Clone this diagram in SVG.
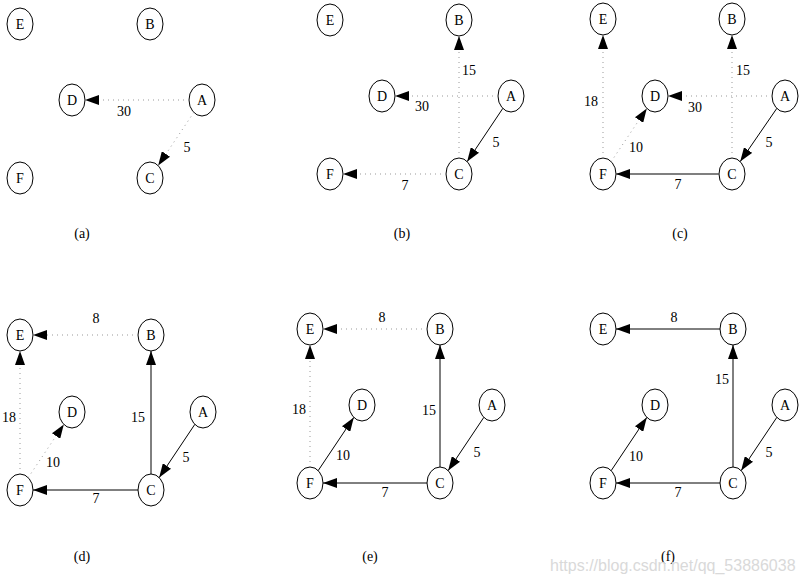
<svg xmlns="http://www.w3.org/2000/svg" width="801" height="582" viewBox="0 0 801 582">
<style>
.n ellipse{fill:#fff;stroke:#000;stroke-width:1}
.n text{font-family:"Liberation Serif","Times New Roman","DejaVu Serif",serif;font-size:14px;text-anchor:middle;fill:#000}
.s{stroke:#000;stroke-width:1;fill:none;marker-end:url(#ah)}
.g{stroke:#555;stroke-width:1.3;fill:none;marker-end:url(#ah)}
.d{stroke:#999;stroke-width:1;fill:none;stroke-dasharray:1 4;marker-end:url(#ah)}
.l{font-family:"Liberation Serif","Times New Roman","DejaVu Serif",serif;font-size:14px;text-anchor:middle;fill:#000}
.wm{font-family:"Liberation Sans",Arial,sans-serif;font-size:16px;fill:#d9d9d9}
</style>
<defs>
<marker id="ah" markerUnits="userSpaceOnUse" markerWidth="14" markerHeight="10" refX="14" refY="5" orient="auto">
<path d="M0,0 L14,5 L0,10 z" fill="#000"/>
</marker>
</defs>
<rect width="801" height="582" fill="#fff"/>

<!-- Panel a -->
<g id="a-E" class="n"><ellipse cx="20" cy="24" rx="13" ry="16"/><text x="20" y="29">E</text></g>
<g id="a-B" class="n"><ellipse cx="150" cy="24" rx="13" ry="16"/><text x="150" y="29">B</text></g>
<g id="a-D" class="n"><ellipse cx="72" cy="100" rx="13" ry="16"/><text x="72" y="105">D</text></g>
<g id="a-A" class="n"><ellipse cx="202" cy="100" rx="13" ry="16"/><text x="202" y="105">A</text></g>
<g id="a-C" class="n"><ellipse cx="150" cy="178" rx="13" ry="16"/><text x="150" y="183">C</text></g>
<g id="a-F" class="n"><ellipse cx="20" cy="178" rx="13" ry="16"/><text x="20" y="183">F</text></g>

<!-- Panel b -->
<g id="b-E" class="n"><ellipse cx="330" cy="20" rx="13" ry="16"/><text x="330" y="25">E</text></g>
<g id="b-B" class="n"><ellipse cx="459" cy="20" rx="13" ry="16"/><text x="459" y="25">B</text></g>
<g id="b-D" class="n"><ellipse cx="382" cy="96" rx="13" ry="16"/><text x="382" y="101">D</text></g>
<g id="b-A" class="n"><ellipse cx="511" cy="96" rx="13" ry="16"/><text x="511" y="101">A</text></g>
<g id="b-C" class="n"><ellipse cx="459" cy="174" rx="13" ry="16"/><text x="459" y="179">C</text></g>
<g id="b-F" class="n"><ellipse cx="330" cy="174" rx="13" ry="16"/><text x="330" y="179">F</text></g>

<!-- Panel c -->
<g id="c-E" class="n"><ellipse cx="603" cy="19" rx="13" ry="16"/><text x="603" y="24">E</text></g>
<g id="c-B" class="n"><ellipse cx="732" cy="19" rx="13" ry="16"/><text x="732" y="24">B</text></g>
<g id="c-D" class="n"><ellipse cx="655" cy="96" rx="13" ry="16"/><text x="655" y="101">D</text></g>
<g id="c-A" class="n"><ellipse cx="785" cy="96" rx="13" ry="16"/><text x="785" y="101">A</text></g>
<g id="c-C" class="n"><ellipse cx="732" cy="174" rx="13" ry="16"/><text x="732" y="179">C</text></g>
<g id="c-F" class="n"><ellipse cx="603" cy="174" rx="13" ry="16"/><text x="603" y="179">F</text></g>

<!-- Panel d -->
<g id="d-E" class="n"><ellipse cx="20" cy="335" rx="13" ry="16"/><text x="20" y="340">E</text></g>
<g id="d-B" class="n"><ellipse cx="151" cy="335" rx="13" ry="16"/><text x="151" y="340">B</text></g>
<g id="d-D" class="n"><ellipse cx="72" cy="412" rx="13" ry="16"/><text x="72" y="417">D</text></g>
<g id="d-A" class="n"><ellipse cx="203" cy="412" rx="13" ry="16"/><text x="203" y="417">A</text></g>
<g id="d-C" class="n"><ellipse cx="151" cy="490" rx="13" ry="16"/><text x="151" y="495">C</text></g>
<g id="d-F" class="n"><ellipse cx="20" cy="490" rx="13" ry="16"/><text x="20" y="495">F</text></g>

<!-- Panel e -->
<g id="e-E" class="n"><ellipse cx="310" cy="329" rx="13" ry="16"/><text x="310" y="334">E</text></g>
<g id="e-B" class="n"><ellipse cx="440" cy="329" rx="13" ry="16"/><text x="440" y="334">B</text></g>
<g id="e-D" class="n"><ellipse cx="362" cy="405" rx="13" ry="16"/><text x="362" y="410">D</text></g>
<g id="e-A" class="n"><ellipse cx="492" cy="405" rx="13" ry="16"/><text x="492" y="410">A</text></g>
<g id="e-C" class="n"><ellipse cx="440" cy="483" rx="13" ry="16"/><text x="440" y="488">C</text></g>
<g id="e-F" class="n"><ellipse cx="310" cy="483" rx="13" ry="16"/><text x="310" y="488">F</text></g>

<!-- Panel f -->
<g id="f-E" class="n"><ellipse cx="603" cy="329" rx="13" ry="16"/><text x="603" y="334">E</text></g>
<g id="f-B" class="n"><ellipse cx="733" cy="329" rx="13" ry="16"/><text x="733" y="334">B</text></g>
<g id="f-D" class="n"><ellipse cx="655" cy="405" rx="13" ry="16"/><text x="655" y="410">D</text></g>
<g id="f-A" class="n"><ellipse cx="785" cy="405" rx="13" ry="16"/><text x="785" y="410">A</text></g>
<g id="f-C" class="n"><ellipse cx="733" cy="483" rx="13" ry="16"/><text x="733" y="488">C</text></g>
<g id="f-F" class="n"><ellipse cx="603" cy="483" rx="13" ry="16"/><text x="603" y="488">F</text></g>

<g id="connectors">
<!-- a -->
<line class="d" x1="189" y1="100" x2="85" y2="100"/>
<line class="d" x1="193.8" y1="112.4" x2="158.2" y2="165.6"/>
<!-- b -->
<line class="d" x1="498" y1="96" x2="395" y2="96"/>
<line class="d" x1="459" y1="158" x2="459" y2="36"/>
<line class="s" x1="502.8" y1="108.4" x2="467.2" y2="161.6"/>
<line class="d" x1="446" y1="174" x2="343" y2="174"/>
<!-- c -->
<line class="d" x1="603" y1="158" x2="603" y2="35"/>
<line class="d" x1="611.2" y1="161.6" x2="646.8" y2="108.4"/>
<line class="d" x1="772" y1="96" x2="668" y2="96"/>
<line class="d" x1="732" y1="158" x2="732" y2="35"/>
<line class="s" x1="776.8" y1="108.4" x2="740.2" y2="161.6"/>
<line class="g" x1="719" y1="174" x2="616" y2="174"/>
<!-- d -->
<line class="d" x1="138" y1="335" x2="33" y2="335"/>
<line class="d" x1="20" y1="474" x2="20" y2="351"/>
<line class="d" x1="28.2" y1="477.6" x2="63.8" y2="424.4"/>
<line class="s" x1="151" y1="474" x2="151" y2="351"/>
<line class="s" x1="194.8" y1="424.4" x2="159.2" y2="477.6"/>
<line class="s" x1="138" y1="490" x2="33" y2="490"/>
<!-- e -->
<line class="d" x1="427" y1="329" x2="323" y2="329"/>
<line class="d" x1="310" y1="467" x2="310" y2="345"/>
<line class="s" x1="318.2" y1="470.6" x2="353.8" y2="417.4"/>
<line class="s" x1="440" y1="467" x2="440" y2="345"/>
<line class="s" x1="483.8" y1="417.4" x2="448.2" y2="470.6"/>
<line class="s" x1="427" y1="483" x2="323" y2="483"/>
<!-- f -->
<line class="s" x1="720" y1="329" x2="616" y2="329"/>
<line class="s" x1="733" y1="467" x2="733" y2="345"/>
<line class="s" x1="611.2" y1="470.6" x2="646.8" y2="417.4"/>
<line class="s" x1="776.8" y1="417.4" x2="741.2" y2="470.6"/>
<line class="s" x1="720" y1="483" x2="616" y2="483"/>
</g>

<g id="labels">
<text class="l" x="124" y="116">30</text>
<text class="l" x="187" y="152">5</text>

<text class="l" x="422" y="111">30</text>
<text class="l" x="469" y="75">15</text>
<text class="l" x="496" y="147">5</text>
<text class="l" x="405" y="190">7</text>

<text class="l" x="591" y="106">18</text>
<text class="l" x="636" y="152">10</text>
<text class="l" x="695" y="112">30</text>
<text class="l" x="743" y="75">15</text>
<text class="l" x="769" y="147">5</text>
<text class="l" x="678" y="189">7</text>

<text class="l" x="96" y="323">8</text>
<text class="l" x="9" y="422">18</text>
<text class="l" x="53" y="467">10</text>
<text class="l" x="138" y="422">15</text>
<text class="l" x="186" y="462">5</text>
<text class="l" x="96" y="503">7</text>

<text class="l" x="382" y="322">8</text>
<text class="l" x="299" y="414">18</text>
<text class="l" x="343" y="460">10</text>
<text class="l" x="429" y="415">15</text>
<text class="l" x="477" y="457">5</text>
<text class="l" x="385" y="497">7</text>

<text class="l" x="674" y="322">8</text>
<text class="l" x="722" y="384">15</text>
<text class="l" x="636" y="461">10</text>
<text class="l" x="769" y="457">5</text>
<text class="l" x="678" y="497">7</text>

<text class="l" x="82" y="238">(a)</text>
<text class="l" x="402" y="238">(b)</text>
<text class="l" x="680" y="238">(c)</text>
<text class="l" x="82" y="561">(d)</text>
<text class="l" x="370" y="561">(e)</text>
<text class="l" x="668" y="561">(f)</text>
</g>
<text class="wm" x="550" y="571">https://blog.csdn.net/qq_53886038</text>
</svg>
